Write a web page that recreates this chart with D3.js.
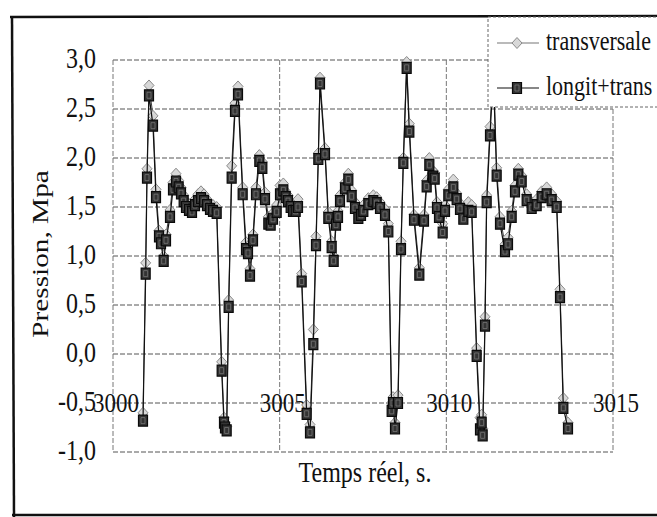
<!DOCTYPE html>
<meta charset="utf-8">
<style>
body { margin: 0; background: #fff; }
text { font-family: "Liberation Serif", "Times New Roman", serif; fill: #111; }
.grid line { stroke: #555; stroke-width: 1; stroke-dasharray: 5,2; }
</style>
<svg width="657" height="517"></svg>
<script src="https://d3js.org/d3.v7.min.js"></script>
<script>

// time, s
var temps = [
  3000.90, 3000.98, 3001.02, 3001.08, 3001.20, 3001.29, 3001.38, 3001.44, 3001.52, 3001.59,
  3001.71, 3001.80, 3001.89, 3001.97, 3002.04, 3002.12, 3002.19, 3002.28, 3002.37, 3002.46,
  3002.55, 3002.64, 3002.73, 3002.82, 3002.91, 3003.00, 3003.11, 3003.26, 3003.33, 3003.36,
  3003.41, 3003.47, 3003.56, 3003.66, 3003.75, 3003.89, 3003.99, 3004.05, 3004.11, 3004.20,
  3004.29, 3004.39, 3004.48, 3004.56, 3004.66, 3004.73, 3004.80, 3004.91, 3005.01, 3005.11,
  3005.18, 3005.25, 3005.33, 3005.40, 3005.48, 3005.55, 3005.66, 3005.81, 3005.91, 3006.01,
  3006.09, 3006.16, 3006.21, 3006.36, 3006.46, 3006.56, 3006.62, 3006.69, 3006.75, 3006.81,
  3006.96, 3007.06, 3007.16, 3007.26, 3007.36, 3007.44, 3007.51, 3007.66, 3007.81, 3007.91,
  3008.01, 3008.16, 3008.26, 3008.36, 3008.40, 3008.46, 3008.55, 3008.64, 3008.71, 3008.81,
  3008.89, 3009.03, 3009.19, 3009.33, 3009.41, 3009.49, 3009.60, 3009.65, 3009.72, 3009.78,
  3009.89, 3009.96, 3010.06, 3010.21, 3010.31, 3010.41, 3010.51, 3010.66, 3010.76, 3010.91,
  3011.01, 3011.06, 3011.09, 3011.16, 3011.21, 3011.31, 3011.41, 3011.51, 3011.61, 3011.76,
  3011.85, 3011.96, 3012.06, 3012.16, 3012.26, 3012.41, 3012.56, 3012.71, 3012.86, 3013.01,
  3013.16, 3013.31, 3013.41, 3013.51, 3013.65
];

var transversale = [
  -0.60, 0.93, 1.89, 2.74, 2.43, 1.68, 1.26, 1.19, 1.00, 1.22,
  1.47, 1.75, 1.84, 1.77, 1.70, 1.62, 1.56, 1.53, 1.52, 1.58,
  1.63, 1.66, 1.63, 1.58, 1.54, 1.52, 1.50, -0.08, -0.65, -0.70,
  -0.74, 0.55, 1.92, 2.56, 2.73, 1.70, 1.14, 1.10, 0.87, 1.22,
  1.70, 2.03, 1.96, 1.65, 1.40, 1.38, 1.44, 1.52, 1.72, 1.74,
  1.66, 1.62, 1.56, 1.53, 1.53, 1.58, 0.82, -0.52, -0.72, 0.25,
  1.20, 2.05, 2.82, 2.10, 1.45, 1.15, 1.00, 1.38, 1.46, 1.62,
  1.75, 1.84, 1.67, 1.55, 1.45, 1.48, 1.52, 1.59, 1.62, 1.60,
  1.55, 1.48, 1.33, -0.50, -0.44, -0.70, -0.42, 1.15, 2.00, 2.98,
  2.35, 1.42, 0.88, 1.42, 1.77, 2.00, 1.87, 1.85, 1.55, 1.46,
  1.33, 1.52, 1.68, 1.78, 1.64, 1.54, 1.44, 1.55, 1.52, 0.06,
  -0.65, -0.62, -0.76, 0.38, 1.62, 2.32, 2.92, 1.90, 1.40, 1.12,
  1.19, 1.46, 1.72, 1.89, 1.82, 1.63, 1.55, 1.58, 1.66, 1.70,
  1.63, 1.56, 0.66, -0.45, -0.70
];

var longitTrans = [
  -0.68, 0.82, 1.80, 2.64, 2.33, 1.60, 1.20, 1.13, 0.95, 1.16,
  1.40, 1.68, 1.76, 1.70, 1.64, 1.56, 1.50, 1.47, 1.45, 1.52,
  1.56, 1.59, 1.56, 1.52, 1.48, 1.46, 1.44, -0.17, -0.70, -0.75,
  -0.78, 0.48, 1.80, 2.48, 2.65, 1.63, 1.07, 1.03, 0.80, 1.16,
  1.63, 1.97, 1.90, 1.58, 1.33, 1.32, 1.38, 1.45, 1.63, 1.67,
  1.60, 1.56, 1.50, 1.46, 1.46, 1.50, 0.74, -0.61, -0.80, 0.10,
  1.11, 1.99, 2.76, 2.04, 1.39, 1.09, 0.95, 1.32, 1.40, 1.56,
  1.69, 1.78, 1.61, 1.49, 1.39, 1.42, 1.46, 1.53, 1.56, 1.54,
  1.49, 1.42, 1.25, -0.58, -0.50, -0.76, -0.50, 1.07, 1.95, 2.92,
  2.27, 1.37, 0.81, 1.36, 1.71, 1.93, 1.81, 1.79, 1.49, 1.40,
  1.24, 1.46, 1.62, 1.70, 1.58, 1.48, 1.38, 1.46, 1.45, -0.02,
  -0.77, -0.70, -0.83, 0.29, 1.55, 2.23, 2.85, 1.82, 1.33, 1.05,
  1.12, 1.40, 1.66, 1.83, 1.76, 1.57, 1.49, 1.52, 1.60, 1.63,
  1.57, 1.50, 0.58, -0.55, -0.76
];

var yTicks = [-1, -0.5, 0, 0.5, 1, 1.5, 2, 2.5, 3];
var xTicks = [3000, 3005, 3010, 3015];
var seriesNames = ["transversale", "longit+trans"];

var svg = d3.select("svg");

var x = d3.scaleLinear().domain([3000, 3015]).range([113, 613]);
var y = d3.scaleLinear().domain([-1, 3]).range([452, 60]);

var comma = function(v) { return d3.format(".1f")(v).replace(".", ",").replace("\u2212", "-"); };

// outer frame
var frame = svg.append("g");
frame.append("line").attr("x1", 10).attr("y1", 17).attr("x2", 657).attr("y2", 16)
    .attr("stroke", "#111").attr("stroke-width", 2.5);
frame.append("line").attr("x1", 12).attr("y1", 16).attr("x2", 14).attr("y2", 517)
    .attr("stroke", "#111").attr("stroke-width", 2.5);
frame.append("line").attr("x1", 12).attr("y1", 515).attr("x2", 657).attr("y2", 515)
    .attr("stroke", "#111").attr("stroke-width", 2.5);

// grid
var grid = svg.append("g").attr("class", "grid");
grid.selectAll(".h").data(yTicks).enter().append("line")
    .attr("x1", x(3000)).attr("x2", x(3015))
    .attr("y1", function(d) { return y(d); })
    .attr("y2", function(d) { return y(d); });
grid.selectAll(".v").data(xTicks).enter().append("line")
    .attr("x1", function(d) { return x(d); })
    .attr("x2", function(d) { return x(d); })
    .attr("y1", y(3)).attr("y2", y(-1))
    .style("stroke", "#777");

function stretched(g, tx, ty, str, size, anchor) {
  return g.append("text")
      .attr("transform", "translate(" + tx + "," + ty + ") scale(1,1.22)")
      .attr("text-anchor", anchor)
      .style("font-size", size + "px")
      .text(str);
}

// y tick labels
yTicks.forEach(function(d) {
  stretched(svg, 96, y(d) + 8, comma(d), 24, "end");
});

// x tick labels, sitting on the -0,5 line
xTicks.forEach(function(d) {
  stretched(svg, x(d) + 3, y(-0.5) + 9, d, 23, "middle");
});

// axis titles
stretched(svg, 365, 482, "Temps réel, s.", 24, "middle");
svg.append("text")
    .attr("transform", "translate(48,254) rotate(-90) scale(1.22,1)")
    .attr("text-anchor", "middle")
    .style("font-size", "24px")
    .text("Pression, Mpa");

var pts = temps.map(function(t, i) {
  return {t: t, a: transversale[i], b: longitTrans[i]};
});

var lineA = d3.line().x(function(d) { return x(d.t); }).y(function(d) { return y(d.a); });
var lineB = d3.line().x(function(d) { return x(d.t); }).y(function(d) { return y(d.b); });

function diamond(sel) {
  sel.append("path").attr("d", "M0,-5.5L5,0L0,5.5L-5,0Z")
      .attr("fill", "#d8d8d8").attr("stroke", "#8a8a8a").attr("stroke-width", 1);
}
// scanned squares: dark with a lighter hatched core
function square(sel) {
  sel.append("path").attr("d", "M-4.5,-5.5H4.5V5.5H-4.5Z")
      .attr("fill", "#333").attr("stroke", "#0a0a0a").attr("stroke-width", 1.2);
  sel.append("path").attr("d", "M-2,-3H2V3H-2Z")
      .attr("fill", "none").attr("stroke", "#777").attr("stroke-width", 0.8);
}

var plot = svg.append("g");

plot.append("path").datum(pts).attr("d", lineA)
    .attr("fill", "none").attr("stroke", "#444").attr("stroke-width", 1);
plot.selectAll(".da").data(pts).enter().append("g")
    .attr("transform", function(d) { return "translate(" + x(d.t) + "," + y(d.a) + ")"; })
    .call(diamond);

plot.append("path").datum(pts).attr("d", lineB)
    .attr("fill", "none").attr("stroke", "#111").attr("stroke-width", 1.2);
plot.selectAll(".sb").data(pts).enter().append("g")
    .attr("transform", function(d) { return "translate(" + x(d.t) + "," + y(d.b) + ")"; })
    .call(square);

// legend
var legend = svg.append("g");
legend.append("rect")
    .attr("x", 488).attr("y", 17).attr("width", 175).attr("height", 90)
    .attr("fill", "#fff").attr("stroke", "#666").attr("stroke-dasharray", "3,2");

var legRows = [
  {name: seriesNames[0], y: 43, stroke: "#777", mark: diamond},
  {name: seriesNames[1], y: 88, stroke: "#111", mark: square}
];
legRows.forEach(function(r) {
  legend.append("line").attr("x1", 497).attr("x2", 539)
      .attr("y1", r.y).attr("y2", r.y)
      .attr("stroke", r.stroke).attr("stroke-width", 1.2);
  legend.append("g").attr("transform", "translate(517," + r.y + ")").call(r.mark);
  stretched(legend, 546, r.y + 7, r.name, 22, "start");
});

</script>
